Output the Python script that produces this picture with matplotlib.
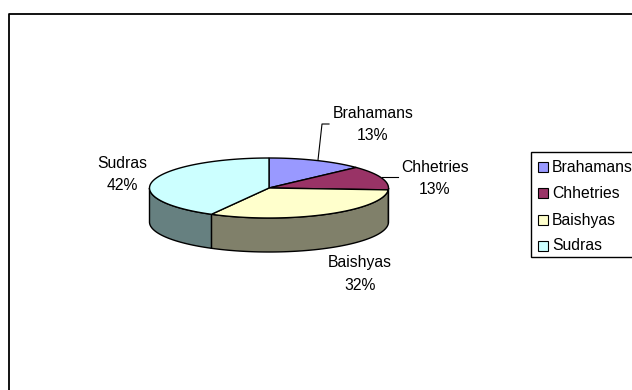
import numpy as np
import matplotlib
matplotlib.use("Agg")
import matplotlib.pyplot as plt
from matplotlib.patches import Polygon, Rectangle

plt.rcParams['font.family'] = ['Liberation Sans', 'DejaVu Sans']

names = ["Brahamans", "Chhetries", "Baishyas", "Sudras"]
values = [13, 13, 32, 42]
colors = ["#9999FF", "#993366", "#FFFFCC", "#CCFFFF"]
side_colors = ["#4D4D80", "#4D1A33", "#80806A", "#668080"]

# pie geometry in pixels
cx, cy = 269, 188
rx, ry = 119.5, 30
depth = 34

label_pos = [(373, 124), (435, 178), (360, 274), (122, 175)]

fig = plt.figure(figsize=(6.32, 3.9), dpi=100)
ax = fig.add_axes([0, 0, 1, 1])
ax.set_xlim(0, 632)
ax.set_ylim(390, 0)
ax.axis("off")

# outer frame, only top and left are inside the picture
ax.plot([9, 9, 640], [400, 14, 14], color="black", lw=1.3, zorder=1)


def rim(a0, a1):
    t = np.radians(np.linspace(a0, a1, 80))
    return cx + rx * np.sin(t), cy - ry * np.cos(t)


edges = 360 * np.cumsum([0] + values) / sum(values)

# sides first, only the front half shows
for i in range(len(values)):
    a0, a1 = max(edges[i], 90), min(edges[i + 1], 270)
    if a1 <= a0:
        continue
    x, y = rim(a0, a1)
    pts = np.r_[np.c_[x, y], np.c_[x[::-1], y[::-1] + depth]]
    ax.add_patch(Polygon(pts, fc=side_colors[i], ec="black", lw=1, zorder=2))

for i in range(len(values)):
    x, y = rim(edges[i], edges[i + 1])
    pts = np.r_[[[cx, cy]], np.c_[x, y]]
    ax.add_patch(Polygon(pts, fc=colors[i], ec="black", lw=1, zorder=3))

# data labels
for n, v, (lx, ly) in zip(names, values, label_pos):
    ax.text(lx, ly - 11, n, fontsize=11.3, ha="center", va="center", zorder=5)
    ax.text(lx, ly + 11, f"{v}%", fontsize=11.3, ha="center", va="center", zorder=5)

# leader lines
ax.plot([318, 322, 329], [160, 124, 124], color="black", lw=0.8, zorder=4)
ax.plot([382, 398], [177, 177], color="black", lw=0.8, zorder=4)

# legend
ax.add_patch(Rectangle((531, 152), 120, 105, fc="white", ec="black", lw=1, zorder=4))
leg_y = [167, 193, 220, 246]
for n, c, ly in zip(names, colors, leg_y):
    ax.add_patch(Rectangle((538, ly - 5), 10, 10, fc=c, ec="black", lw=0.8, zorder=5))
    ax.text(552, ly, n, fontsize=11.3, ha="left", va="center", zorder=5)

fig.savefig("out.png", dpi=100)
